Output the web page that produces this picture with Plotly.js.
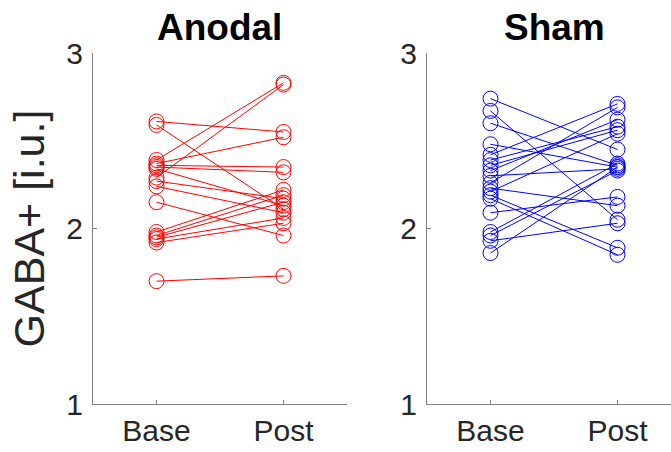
<!DOCTYPE html>
<html>
<head>
<meta charset="utf-8">
<script src="https://cdn.plot.ly/plotly-3.0.1.min.js"></script>
<style>html,body{margin:0;padding:0;background:#fff;}#chart{width:671px;height:452px;}</style>
</head>
<body>
<div id="chart"></div>
<script>
// Data
var timepoints = ["Base", "Post"];
var timeIndex = [1, 2];
var anodalBase = [2.61, 2.59, 2.39, 2.37, 2.36, 2.35, 2.34, 2.29, 2.27, 2.24, 2.15, 1.98, 1.96, 1.95, 1.94, 1.92, 1.70];
var anodalPost = [2.55, 2.11, 2.83, 2.52, 2.35, 2.32, 2.13, 2.82, 2.17, 2.09, 1.96, 2.22, 2.19, 2.15, 2.06, 2.03, 1.73];
var shamBase = [2.74, 2.67, 2.60, 2.48, 2.42, 2.39, 2.36, 2.33, 2.30, 2.26, 2.23, 2.21, 2.19, 2.17, 2.09, 1.98, 1.96, 1.93, 1.86];
var shamPost = [2.45, 2.05, 2.36, 2.35, 2.71, 2.58, 2.56, 2.62, 2.34, 2.69, 2.13, 2.54, 1.89, 1.85, 2.18, 2.37, 2.33, 2.03, 2.35];
var panelTitles = ["Anodal", "Sham"];
var yTitle = "GABA+ [i.u.]";
var yTicks = [1, 2, 3];

var traces = [];
function addPairs(base, post, color, xa, ya) {
  for (var i = 0; i < base.length; i++) {
    traces.push({
      x: timeIndex, y: [base[i], post[i]],
      xaxis: xa, yaxis: ya,
      type: "scatter", mode: "lines+markers",
      line: {color: color, width: 1},
      marker: {symbol: "circle-open", size: 15, color: color, line: {width: 1, color: color}},
      showlegend: false, hoverinfo: "y", cliponaxis: false
    });
  }
}
addPairs(anodalBase, anodalPost, "#ff0000", "x", "y");
addPairs(shamBase, shamPost, "#0000ff", "x2", "y2");

var fontFam = "Liberation Sans, Arial, Helvetica, sans-serif";
var axCol = "#808080";
var txtCol = "#262626";
var yDom = [(452 - 404) / 452, (452 - 53) / 452];

function xAxis(domain, range, anchor) {
  return {
    domain: domain, range: range, anchor: anchor,
    type: "linear", tickmode: "array", tickvals: timeIndex, ticktext: timepoints,
    showline: true, linecolor: axCol, linewidth: 1, mirror: false,
    ticks: "inside", ticklen: 4, tickcolor: axCol, showgrid: false, zeroline: false,
    tickfont: {family: fontFam, size: 30, color: txtCol}, fixedrange: true
  };
}
function yAxis(anchor, withTitle) {
  var a = {
    domain: yDom, range: [1, 3], anchor: anchor,
    tickmode: "array", tickvals: yTicks, ticktext: yTicks.map(String),
    showline: true, linecolor: axCol, linewidth: 1, mirror: false,
    ticks: "inside", ticklen: 4, tickcolor: axCol, showgrid: false, zeroline: false,
    ticklabelstandoff: 3,
    tickfont: {family: fontFam, size: 30, color: txtCol}, fixedrange: true
  };
  if (withTitle) {
    a.title = {text: yTitle, font: {family: fontFam, size: 43, color: txtCol}, standoff: 8};
  }
  return a;
}

var layout = {
  width: 671, height: 452,
  margin: {l: 0, r: 0, t: 0, b: 0},
  paper_bgcolor: "#ffffff", plot_bgcolor: "#ffffff",
  xaxis: xAxis([93 / 671, 347 / 671], [0.5, 2.5], "y"),
  yaxis: yAxis("x", true),
  xaxis2: xAxis([427 / 671, 1], [0.5, 0.5 + 2 * 244 / 254], "y2"),
  yaxis2: yAxis("x2", false),
  annotations: [
    {text: "<b>" + panelTitles[0] + "</b>", xref: "paper", yref: "paper", x: 220 / 671, y: (452 - 28) / 452,
     xanchor: "center", yanchor: "middle", showarrow: false, font: {family: fontFam, size: 37, color: "#000000"}},
    {text: "<b>" + panelTitles[1] + "</b>", xref: "paper", yref: "paper", x: 554 / 671, y: (452 - 28) / 452,
     xanchor: "center", yanchor: "middle", showarrow: false, font: {family: fontFam, size: 37, color: "#000000"}}
  ],
  showlegend: false
};

Plotly.newPlot("chart", traces, layout, {displayModeBar: false, staticPlot: true});
</script>
</body>
</html>
